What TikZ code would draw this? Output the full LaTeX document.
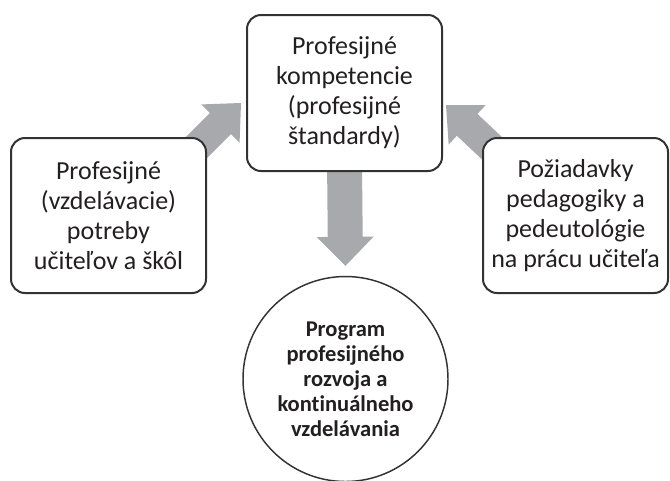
\documentclass[tikz,border=0pt]{standalone}
\usepackage{fontspec}
\setmainfont{Carlito}[Ligatures=NoCommon]
\usetikzlibrary{calc,backgrounds}
\definecolor{arrowgray}{RGB}{167,169,172}
\definecolor{linegray}{RGB}{50,50,50}
\definecolor{txt}{RGB}{35,31,32}
\newcommand{\fatarrow}[5]{%
  \path ($(#2)!#5!(#1)$) coordinate (fa-b);
  \fill[arrowgray] ($(#1)!#3!90:(#2)$) -- ($(fa-b)!#3!90:(#2)$) -- ($(fa-b)!#4!90:(#2)$)
    -- (#2) -- ($(fa-b)!#4!-90:(#2)$) -- ($(fa-b)!#3!-90:(#2)$) -- ($(#1)!#3!-90:(#2)$) -- cycle;}
\tikzset{
  box/.style={draw=linegray, line width=1.5pt, fill=white, rounded corners=10.5pt,
    inner sep=0pt, align=center, text=txt,
    font=\fontsize{19.5pt}{22.5pt}\selectfont},
  prog/.style={circle, draw=linegray, line width=1.1pt, fill=white, inner sep=0pt,
    minimum size=153.75pt, align=center, text=txt,
    font=\fontsize{16.9pt}{18.75pt}\selectfont\bfseries}
}
\begin{document}
\begin{tikzpicture}[x=0.75pt,y=-0.75pt]
\useasboundingbox (0,0) rectangle (670,480);
\node[box, minimum width=146.25pt, minimum height=117pt] (top) at (344.5,93)
  {Profesijné\\kompetencie\\(profesijné\\štandardy)};
\node[box, minimum width=146.25pt, minimum height=116.25pt] (left) at (108.5,215.5)
  {Profesijné\\(vzdelávacie)\\potreby\\učiteľov a škôl};
\node[box, minimum width=138.75pt, minimum height=116.25pt] (right) at (575.5,215.5)
  {Požiadavky\\pedagogiky a\\pedeutológie\\na prácu učiteľa};
\node[prog] (prog) at (345.5,379)
  {Program\\profesijného\\rozvoja a\\kontinuálneho\\vzdelávania};
\begin{pgfonlayer}{background}
  \coordinate (lt) at ($(left.north east)+(-30,30)$);
  \coordinate (lh) at ($(left.north east)+(34,-34)$);
  \fatarrow{lt}{lh}{11.25pt}{20.25pt}{21.75pt}
  \coordinate (rt) at ($(right.north west)+(30,30)$);
  \coordinate (rh) at ($(right.north west)+(-36,-32)$);
  \fatarrow{rt}{rh}{11.25pt}{20.25pt}{21.75pt}
  \coordinate (dt) at ($(top.south)+(0,-10)$);
  \coordinate (dh) at ($(prog.north)+(0,-10)$);
  \fatarrow{dt}{dh}{13.1pt}{21.4pt}{21.75pt}
\end{pgfonlayer}
\end{tikzpicture}
\end{document}
